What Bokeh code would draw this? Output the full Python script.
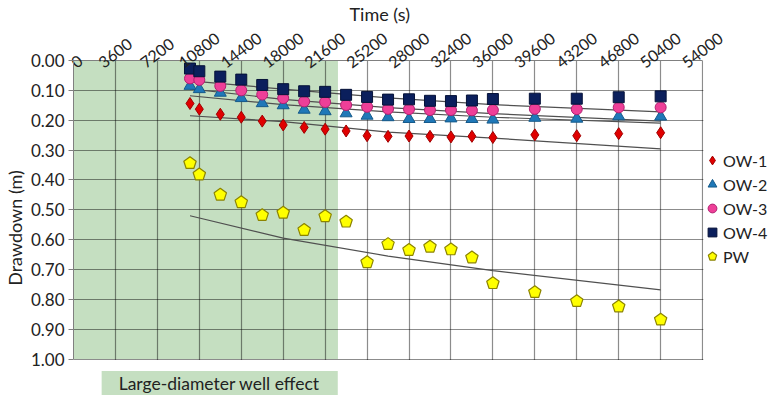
import math
from bokeh.plotting import figure
from bokeh.models import (Range1d, FixedTicker, BoxAnnotation, Label, Legend, LegendItem,
                          ColumnDataSource, PrintfTickFormatter)
from bokeh.embed import file_html
from bokeh.resources import INLINE

# ---------------- data ----------------
time_s = [10000, 10800, 12600, 14400, 16200, 18000, 19800, 21600, 23400, 25200,
          27000, 28800, 30600, 32400, 34200, 36000, 39600, 43200, 46800, 50400]
ow1 = [0.144, 0.163, 0.180, 0.190, 0.203, 0.216, 0.224, 0.230, 0.236, 0.252,
       0.254, 0.253, 0.254, 0.256, 0.254, 0.258, 0.249, 0.252, 0.245, 0.242]
ow2 = [0.085, 0.096, 0.108, 0.126, 0.143, 0.150, 0.165, 0.170, 0.177, 0.185,
       0.190, 0.196, 0.196, 0.194, 0.196, 0.198, 0.192, 0.195, 0.187, 0.188]
ow3 = [0.060, 0.065, 0.085, 0.100, 0.114, 0.126, 0.137, 0.139, 0.149, 0.155,
       0.162, 0.163, 0.166, 0.166, 0.167, 0.166, 0.162, 0.163, 0.157, 0.157]
ow4 = [0.027, 0.036, 0.054, 0.064, 0.082, 0.096, 0.103, 0.105, 0.115, 0.122,
       0.131, 0.130, 0.135, 0.136, 0.134, 0.129, 0.128, 0.128, 0.123, 0.120]
pw = [0.344, 0.382, 0.450, 0.475, 0.518, 0.510, 0.568, 0.522, 0.540, 0.676,
      0.615, 0.635, 0.624, 0.633, 0.660, 0.746, 0.776, 0.806, 0.824, 0.868]

# fitted (model) curves
fit_time = [10000, 18000, 27000, 36000, 50400]
fit_ow1 = [0.185, 0.205, 0.240, 0.260, 0.296]
fit_ow2 = [0.118, 0.148, 0.172, 0.190, 0.210]
fit_ow3 = [0.095, 0.130, 0.158, 0.178, 0.203]
fit_ow4 = [0.068, 0.096, 0.125, 0.148, 0.172]
fit_pw = [0.520, 0.595, 0.655, 0.704, 0.768]

x_ticks = [0, 3600, 7200, 10800, 14400, 18000, 21600, 25200, 28800, 32400,
           36000, 39600, 43200, 46800, 50400, 54000]
x_tick_labels = ["0", "3600", "7200", "10800", "14400", "18000", "21600", "25200",
                 "28000", "32400", "36000", "39600", "43200", "46800", "50400", "54000"]
y_ticks = [0.0, 0.1, 0.2, 0.3, 0.4, 0.5, 0.6, 0.7, 0.8, 0.9, 1.0]
effect_end = 22700
effect_label = "Large-diameter well effect"

FONT = "Lato"
GREEN = "#c5dfc1"
X_MAX = 54000
Y_MAX = 1.0
X_RIGHT = 59743     # frame continues right of 54000 to hold the legend
Y_BOTTOM = 1.122    # frame continues below 1.00 to hold the effect caption
SHIFT_PER_CHAR = 316  # centre the slanted tick labels on their grid lines
PENT_ANGLE = 0.0      # pentagon with a vertex pointing up

p = figure(width=769, height=395, x_range=Range1d(0, X_RIGHT), y_range=Range1d(Y_BOTTOM, 0.0),
           x_axis_location="above", output_backend="svg", toolbar_location=None,
           min_border=0, min_border_left=72, min_border_right=0, min_border_top=59,
           min_border_bottom=0)
p.outline_line_color = None
p.background_fill_color = "white"
p.border_fill_color = "white"

# axis title drawn as the plot title so it can sit left of the frame centre
p.title.text = "Time (s)"
p.title.align = "left"
p.title.offset = 276
p.title.standoff = 0
p.title.text_font = FONT
p.title.text_font_size = "18px"
p.title.text_font_style = "normal"
p.title.text_color = "#222222"

# green shading
p.add_layout(BoxAnnotation(left=0, right=effect_end, top=0, bottom=Y_MAX, fill_color=GREEN,
                           fill_alpha=1.0, line_alpha=0, level="image"))

# axes
xa = p.xaxis[0]
label_pos = [max(0, t - len(l) * SHIFT_PER_CHAR) for t, l in zip(x_ticks, x_tick_labels)]
xa.ticker = FixedTicker(ticks=label_pos)
xa.major_label_overrides = {pos: l for pos, l in zip(label_pos, x_tick_labels)}
xa.major_label_orientation = 0.65
xa.bounds = (0, X_MAX)
ya = p.yaxis[0]
ya.ticker = FixedTicker(ticks=y_ticks)
ya.formatter = PrintfTickFormatter(format="%.2f")
ya.axis_label = "Drawdown (m)"
ya.bounds = (0, Y_MAX)
for ax in (xa, ya):
    ax.axis_line_color = "#808080"
    ax.major_tick_line_color = "#808080"
    ax.major_tick_out = 5
    ax.major_tick_in = 0
    ax.minor_tick_line_color = None
    ax.major_label_text_font = FONT
    ax.major_label_text_font_size = "17px"
    ax.major_label_text_color = "#222222"
    ax.axis_label_text_font = FONT
    ax.axis_label_text_font_size = "18px"
    ax.axis_label_text_font_style = "normal"
    ax.axis_label_text_color = "#222222"
xa.major_label_text_font_size = "16px"
xa.major_tick_out = 0
xa.major_label_standoff = -4
ya.major_label_standoff = 4
ya.axis_label_standoff = 2

p.xgrid.ticker = FixedTicker(ticks=x_ticks)
p.xgrid.grid_line_color = "black"
p.ygrid.grid_line_color = "black"
p.xgrid.grid_line_alpha = 0.45
p.ygrid.grid_line_alpha = 0.45
p.xgrid.grid_line_width = 1.2
p.ygrid.grid_line_width = 1.2

# white covers: grid stops at the chart's bottom and right edges
p.add_layout(BoxAnnotation(top=Y_MAX + 0.003, fill_color="white", fill_alpha=1.0,
                           line_alpha=0, level="annotation"))
p.add_layout(BoxAnnotation(left=X_MAX + 60, fill_color="white", fill_alpha=1.0,
                           line_alpha=0, level="annotation"))

# fitted lines
for fy in (fit_ow1, fit_ow2, fit_ow3, fit_ow4, fit_pw):
    p.line(fit_time, fy, line_color="#505050", line_width=1.2)

r1 = p.scatter(time_s, ow1, marker="diamond", size=12, fill_color="#e00000", line_color="#a00000")
r2 = p.scatter(time_s, ow2, marker="triangle", size=12, fill_color="#1f78b8", line_color="#155a8a")
r3 = p.scatter(time_s, ow3, marker="circle", size=11, fill_color="#ee3f98", line_color="#b02070")
r4 = p.scatter(time_s, ow4, marker="square", size=11, fill_color="#0b1f5c", line_color="#061238")

src_pw = ColumnDataSource(dict(x=time_s, y=pw))
try:
    from bokeh.models import Ngon
    g = Ngon(x="x", y="y", radius=6.5, radius_units="screen", n=5, angle=PENT_ANGLE,
             fill_color="#ffff00", line_color="#8c8400", line_width=1.2)
    r5 = p.add_glyph(src_pw, g)
except Exception:
    r5 = p.scatter("x", "y", source=src_pw, marker="hex", size=13, fill_color="#ffff00",
                   line_color="#8c8400")

legend = Legend(items=[LegendItem(label="OW-1", renderers=[r1]),
                       LegendItem(label="OW-2", renderers=[r2]),
                       LegendItem(label="OW-3", renderers=[r3]),
                       LegendItem(label="OW-4", renderers=[r4]),
                       LegendItem(label="PW", renderers=[r5])],
                location=(628, 127), border_line_color=None, background_fill_alpha=0,
                label_text_font=FONT, label_text_font_size="16px", label_text_color="#222222",
                glyph_width=22, glyph_height=24, label_standoff=0, spacing=0, padding=0, margin=0,
                label_height=20, level="overlay")
p.add_layout(legend)

lab = Label(x=effect_end / 2 + 1200, y=1.102, x_units="data", y_units="data", text=effect_label,
            text_align="center", text_baseline="middle", text_font=FONT, text_font_size="17.5px",
            text_color="#222222", background_fill_color=GREEN, background_fill_alpha=1.0,
            padding=(17, 18, 2, 14), level="overlay")
p.add_layout(lab)

open("out.html", "w").write(file_html(p, INLINE))
